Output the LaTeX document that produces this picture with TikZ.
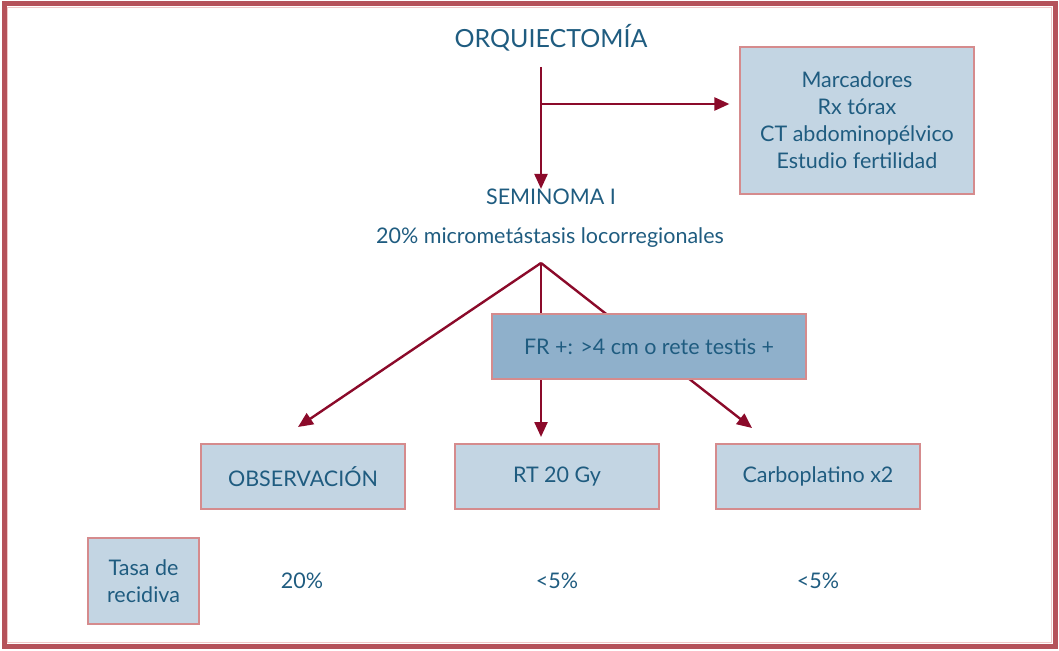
\documentclass[tikz,border=0pt]{standalone}
\usepackage{fontspec}
\setmainfont{Lato}
\usepackage{tikz}
\usetikzlibrary{arrows.meta,positioning}
\definecolor{frame}{HTML}{B5525A}
\definecolor{framein}{HTML}{F0C8C8}
\definecolor{ink}{HTML}{1F5C80}
\definecolor{wine}{HTML}{8B0A2A}
\definecolor{pale}{HTML}{C3D5E3}
\definecolor{deep}{HTML}{8FB0CB}
\definecolor{edge}{HTML}{D58B8D}

\begin{document}
\begin{tikzpicture}[x=1pt,y=-1pt,
  txt/.style={text=ink,font=\fontsize{21.5}{27}\selectfont,align=center,inner sep=0pt},
  infobox/.style={txt,rectangle,draw=edge,fill=pale,line width=1.2pt},
  arr/.style={-{Triangle[length=15pt,width=13pt]},line width=2.4pt,wine}]
\useasboundingbox (0,0) rectangle (1059,650);
\draw[line width=5pt,frame] (4,4) rectangle (1055,646);
\draw[line width=0.8pt,framein] (7.5,7.5) rectangle (1051.5,642.5);

\node[txt,font=\fontsize{25}{30}\selectfont] (orq) at (551,38) {ORQUIECTOMÍA};
\node[infobox,minimum width=234pt,minimum height=147pt] (mar) at (857,120.5)
  {Marcadores\\Rx tórax\\CT abdominopélvico\\Estudio fertilidad};
\node[txt] (sem) at (551,197) {SEMINOMA I};
\node[txt] (micro) at (550,238) {20\% micrometástasis locorregionales};

\coordinate (o1) at (541,67);
\coordinate (o2) at (541,104);
\coordinate (fan) at (541,263);

\node[infobox,minimum width=204pt,minimum height=65pt] (obs) at (303,476.5) {OBSERVACIÓN};
\node[infobox,minimum width=204pt,minimum height=65pt] (rt) at (557,476.5) {RT 20 Gy};
\node[infobox,minimum width=204pt,minimum height=65pt] (carbo) at (818,476.5) {Carboplatino x2};

\coordinate (tl) at (298,427);
\coordinate (tm) at (541,437);
\coordinate (tr) at (752,428);

% arrows
\draw[arr] (o1) -- (sem.north -| o1);
\draw[arr,shorten >=10pt] (o2) -- (o2 -| mar.west);
\foreach \t in {tl,tm,tr} \draw[arr] (fan) -- (\t);

\node[infobox,fill=deep,minimum width=314pt,minimum height=65pt] (fr) at (649,346.5) {FR +: >4 cm o rete testis +};

\node[infobox,minimum width=111pt,minimum height=86pt] (tasa) at (143.5,581) {Tasa de\\recidiva};
\node[txt] (r1) at (302,581) {20\%};
\node[txt] (r2) at (557,581) {<5\%};
\node[txt] (r3) at (818,581) {<5\%};
\end{tikzpicture}
\end{document}
